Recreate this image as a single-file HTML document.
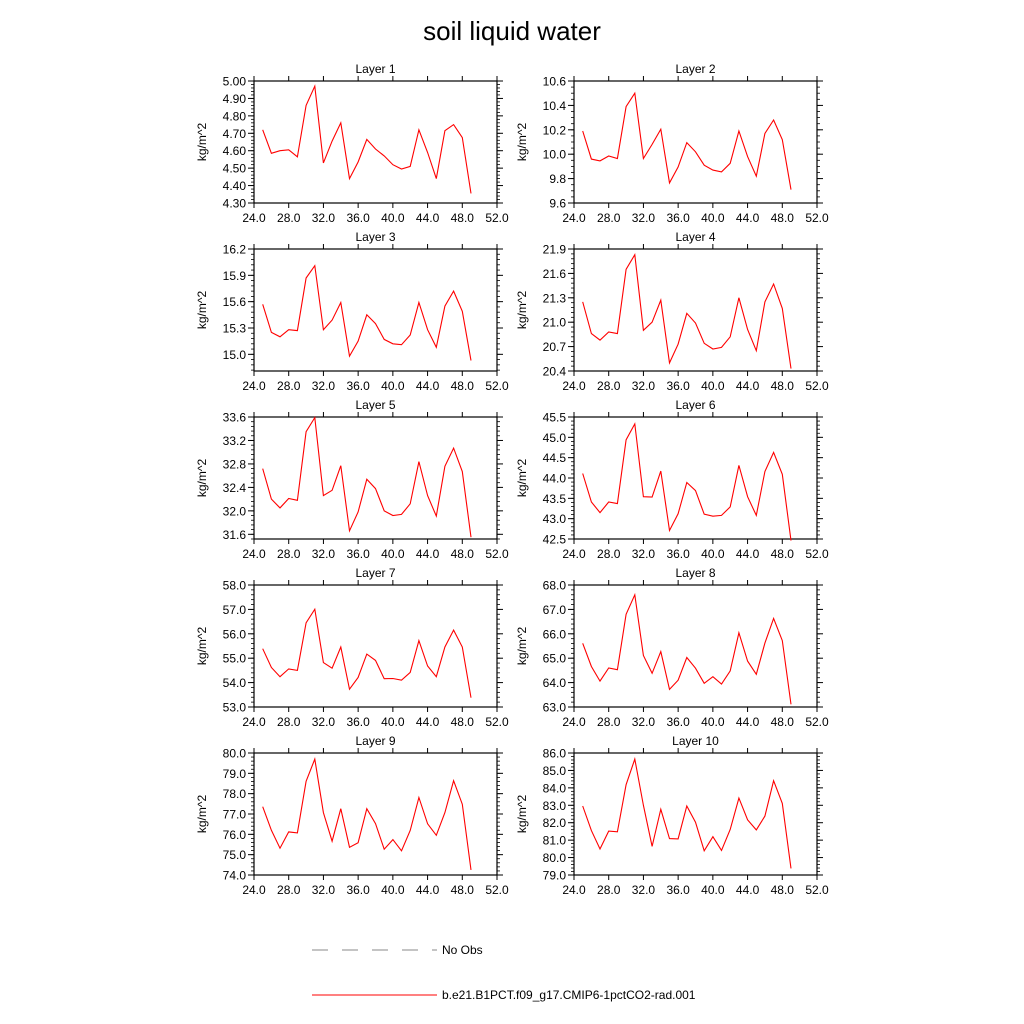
<!DOCTYPE html>
<html><head><meta charset="utf-8"><style>
body{margin:0;background:#fff;}
svg{display:block;font-family:"Liberation Sans",sans-serif;}
</style></head><body>
<svg id="chart" width="1024" height="1024" viewBox="0 0 1024 1024">
<text x="512" y="40" text-anchor="middle" font-size="26">soil liquid water</text>
<g>
<line x1="312" y1="950" x2="437" y2="950" stroke="#888" stroke-width="1" stroke-dasharray="16,14"/>
<text x="442" y="954" font-size="12">No Obs</text>
<line x1="312" y1="995" x2="437" y2="995" stroke="#f00" stroke-width="1"/>
<text x="442" y="999" font-size="12">b.e21.B1PCT.f09_g17.CMIP6-1pctCO2-rad.001</text>
</g>
</svg>
<script>
const years = [25,26,27,28,29,30,31,32,33,34,35,36,37,38,39,40,41,42,43,44,45,46,47,48,49];
const xTicks = [24,28,32,36,40,44,48,52];
const layerNames = ["Layer 1","Layer 2","Layer 3","Layer 4","Layer 5","Layer 6","Layer 7","Layer 8","Layer 9","Layer 10"];
const layer1 = [4.72,4.585,4.60,4.605,4.565,4.86,4.97,4.53,4.655,4.76,4.44,4.535,4.665,4.61,4.57,4.52,4.495,4.51,4.72,4.59,4.44,4.715,4.75,4.675,4.355];
const layer2 = [10.19,9.96,9.945,9.985,9.965,10.39,10.50,9.965,10.08,10.205,9.765,9.895,10.095,10.02,9.91,9.87,9.855,9.925,10.19,9.98,9.82,10.17,10.28,10.12,9.71];
const layer3 = [15.57,15.25,15.20,15.28,15.27,15.87,16.01,15.28,15.39,15.59,14.98,15.15,15.45,15.35,15.17,15.12,15.11,15.22,15.59,15.28,15.08,15.55,15.72,15.49,14.93];
const layer4 = [21.25,20.86,20.78,20.88,20.86,21.65,21.83,20.90,21.00,21.27,20.50,20.73,21.11,20.99,20.74,20.67,20.69,20.82,21.30,20.91,20.65,21.25,21.47,21.17,20.43];
const layer5 = [32.72,32.20,32.05,32.21,32.18,33.35,33.59,32.26,32.35,32.77,31.66,31.98,32.54,32.38,32.00,31.92,31.94,32.12,32.84,32.26,31.91,32.76,33.07,32.67,31.55];
const layer6 = [44.11,43.41,43.15,43.41,43.37,44.94,45.33,43.54,43.53,44.17,42.71,43.12,43.89,43.69,43.11,43.06,43.08,43.29,44.31,43.54,43.08,44.16,44.63,44.09,42.46];
const layer7 = [55.39,54.62,54.24,54.56,54.50,56.45,57.01,54.82,54.59,55.46,53.73,54.21,55.17,54.91,54.16,54.17,54.10,54.42,55.72,54.68,54.24,55.46,56.15,55.46,53.38];
const layer8 = [65.61,64.66,64.06,64.60,64.53,66.80,67.60,65.11,64.38,65.27,63.72,64.10,65.03,64.59,63.97,64.24,63.94,64.48,66.04,64.88,64.34,65.62,66.63,65.72,63.11];
const layer9 = [77.36,76.20,75.32,76.12,76.07,78.61,79.70,77.07,75.66,77.26,75.36,75.59,77.26,76.53,75.27,75.74,75.19,76.19,77.81,76.52,75.95,77.07,78.64,77.48,74.25];
const layer10 = [82.96,81.55,80.49,81.52,81.48,84.18,85.65,83.00,80.64,82.77,81.09,81.07,82.96,82.03,80.39,81.20,80.41,81.61,83.41,82.17,81.59,82.38,84.41,83.11,79.38];
const yMins = [4.3,9.6,14.81,20.4,31.52,42.5,53,63,74,79];
const yMaxs = [5.0,10.6,16.2,21.9,33.6,45.5,58,68,80,86];
const yTicks1 = ["4.30","4.40","4.50","4.60","4.70","4.80","4.90","5.00"];
const yTicks2 = ["9.6","9.8","10.0","10.2","10.4","10.6"];
const yTicks3 = ["15.0","15.3","15.6","15.9","16.2"];
const yTicks4 = ["20.4","20.7","21.0","21.3","21.6","21.9"];
const yTicks5 = ["31.6","32.0","32.4","32.8","33.2","33.6"];
const yTicks6 = ["42.5","43.0","43.5","44.0","44.5","45.0","45.5"];
const yTicks7 = ["53.0","54.0","55.0","56.0","57.0","58.0"];
const yTicks8 = ["63.0","64.0","65.0","66.0","67.0","68.0"];
const yTicks9 = ["74.0","75.0","76.0","77.0","78.0","79.0","80.0"];
const yTicks10 = ["79.0","80.0","81.0","82.0","83.0","84.0","85.0","86.0"];
const yMinorSteps = [0.02,0.05,0.06,0.06,0.08,0.1,0.2,0.2,0.2,0.2];

const series = [layer1,layer2,layer3,layer4,layer5,layer6,layer7,layer8,layer9,layer10];
const tickSets = [yTicks1,yTicks2,yTicks3,yTicks4,yTicks5,yTicks6,yTicks7,yTicks8,yTicks9,yTicks10];
const svg = document.getElementById('chart');
const NS = 'http://www.w3.org/2000/svg';
function mk(tag, attrs, parent){const e=document.createElementNS(NS,tag);for(const k in attrs)e.setAttribute(k,attrs[k]);parent.appendChild(e);return e;}
const W=243, H=122;
for(let i=0;i<10;i++){
  const col=i%2, row=Math.floor(i/2);
  const L = col===0?254:574, T = 81+row*168;
  const g = mk('g',{},svg);
  
  
  const xs = v => L + (v-24)/(52-24)*W;
  const ymin=yMins[i], ymax=yMaxs[i];
  const ys = v => T + H - (v-ymin)/(ymax-ymin)*H;
  const t = mk('text',{x:L+W/2,y:T-8,'text-anchor':'middle','font-size':12},g);
  t.textContent = layerNames[i];
  
  
  // x ticks
  xTicks.forEach(v=>{
    const x=xs(v);
    mk('line',{x1:x,y1:T+H,x2:x,y2:T+H+5,stroke:'#000','stroke-width':1},g);
    mk('line',{x1:x,y1:T,x2:x,y2:T-5,stroke:'#000','stroke-width':1},g);
    const lb = mk('text',{x:x,y:T+H+19,'text-anchor':'middle','font-size':12},g);
    lb.textContent = v.toFixed(1);
    
    
  });
  // y minor ticks
  const ms = yMinorSteps[i];
  for(let v=Math.ceil(ymin/ms-1e-6)*ms; v<=ymax+1e-9; v+=ms){
    const y=ys(v);
    mk('line',{x1:L-3,y1:y,x2:L,y2:y,stroke:'#000','stroke-width':0.8},g);
    mk('line',{x1:L+W,y1:y,x2:L+W+3,y2:y,stroke:'#000','stroke-width':0.8},g);
  }
  tickSets[i].forEach(s=>{
    const v=parseFloat(s), y=ys(v);
    mk('line',{x1:L-6,y1:y,x2:L,y2:y,stroke:'#000','stroke-width':1},g);
    mk('line',{x1:L+W,y1:y,x2:L+W+6,y2:y,stroke:'#000','stroke-width':1},g);
    const lb = mk('text',{x:L-8,y:y+4.5,'text-anchor':'end','font-size':12},g);
    lb.textContent = s;
    
    
  });
  const yt = mk('text',{x:0,y:0,'text-anchor':'middle','font-size':12,transform:'translate('+(L-48)+','+(T+H/2)+') rotate(-90)'},g);
  yt.textContent='kg/m^2';
  
  
  const fr = mk('rect',{x:L,y:T,width:W,height:H,fill:'none',stroke:'#000','stroke-width':1.2},g);
  
  
  const pts = series[i].map((v,j)=>xs(years[j]).toFixed(1)+','+ys(v).toFixed(1)).join(' ');
  const pl = mk('polyline',{points:pts,fill:'none',stroke:'#f00','stroke-width':1.1},g);
  
  
}
</script>
</body></html>
